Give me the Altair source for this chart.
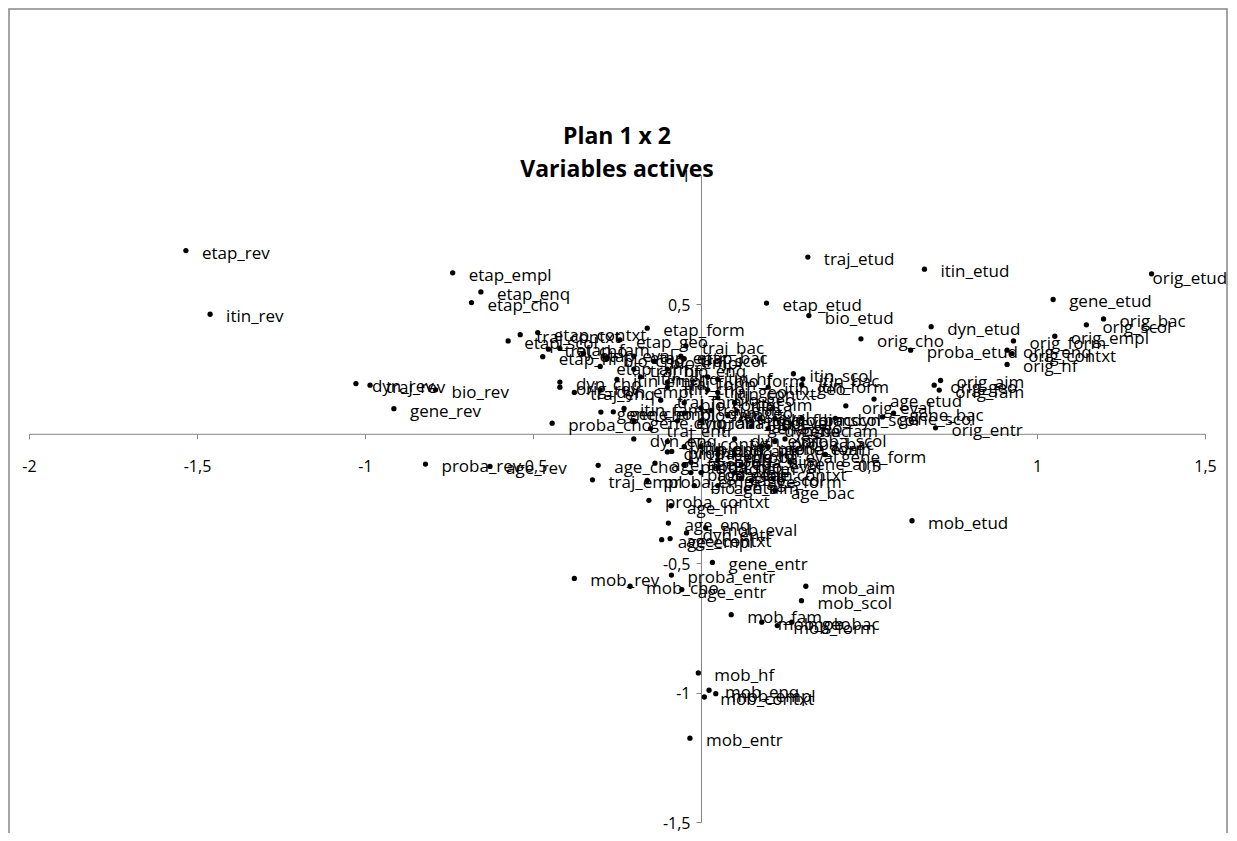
import altair as alt
import pandas as pd

# ---- data (coordinates on axes 1 and 2) ----
labels = [
    "etap_rev", "etap_empl", "etap_enq", "etap_cho", "etap_etud", "etap_form", "etap_contxt", "etap_scol",
    "etap_hf", "etap_geo", "etap_bac", "etap_aim", "etap_entr", "etap_eval", "etap_fam",
    "itin_rev", "itin_etud", "itin_bac", "itin_scol", "itin_form", "itin_fam", "itin_empl", "itin_enq",
    "itin_cho", "itin_contxt", "itin_aim", "itin_hf", "itin_entr", "itin_eval", "itin_geo",
    "traj_etud", "traj_rev", "traj_contxt", "traj_cho", "traj_bac", "traj_empl", "traj_enq", "traj_scol",
    "traj_form", "traj_aim", "traj_hf", "traj_entr", "traj_eval", "traj_geo", "traj_fam",
    "orig_etud", "orig_bac", "orig_scol", "orig_empl", "orig_form", "orig_cho", "orig_enq", "orig_contxt",
    "orig_hf", "orig_aim", "orig_geo", "orig_fam", "orig_eval", "orig_entr", "orig_rev",
    "gene_rev", "gene_etud", "gene_bac", "gene_scol", "gene_form", "gene_aim", "gene_entr", "gene_cho",
    "gene_empl", "gene_enq", "gene_contxt", "gene_hf", "gene_eval", "gene_geo", "gene_fam",
    "bio_rev", "bio_etud", "bio_geo", "bio_cho", "bio_empl", "bio_enq", "bio_form", "bio_contxt",
    "bio_bac", "bio_scol", "bio_aim", "bio_hf", "bio_entr", "bio_eval", "bio_fam",
    "dyn_rev", "dyn_etud", "dyn_geo", "dyn_form", "dyn_scol", "dyn_bac", "dyn_cho", "dyn_empl",
    "dyn_enq", "dyn_contxt", "dyn_aim", "dyn_hf", "dyn_entr", "dyn_eval", "dyn_fam",
    "proba_rev", "proba_etud", "proba_cho", "proba_contxt", "proba_entr", "proba_empl", "proba_enq", "proba_form",
    "proba_bac", "proba_scol", "proba_aim", "proba_hf", "proba_eval", "proba_geo", "proba_fam",
    "age_rev", "age_etud", "age_cho", "age_enq", "age_empl", "age_contxt", "age_hf", "age_entr",
    "age_form", "age_bac", "age_scol", "age_aim", "age_eval", "age_geo", "age_fam",
    "mob_rev", "mob_etud", "mob_cho", "mob_aim", "mob_scol", "mob_fam", "mob_geo", "mob_bac",
    "mob_form", "mob_hf", "mob_enq", "mob_empl", "mob_contxt", "mob_entr", "mob_eval",
]

axis1 = [
    -1.533, -0.739, -0.655, -0.683, 0.195, -0.160, -0.486, -0.574,
    -0.471, -0.241, -0.060, -0.300, -0.200, -0.350, -0.420,
    -1.461, 0.665, 0.303, 0.275, 0.300, -0.229, -0.250, -0.180,
    -0.100, 0.050, 0.100, 0.020, -0.050, 0.150, 0.200,
    0.318, -0.985, -0.538, -0.454, -0.045, -0.323, -0.377, -0.050,
    -0.100, 0.000, -0.200, -0.150, 0.080, 0.020, -0.120,
    1.341, 1.198, 1.147, 1.053, 0.930, 0.476, 0.911, 0.926,
    0.911, 0.713, 0.694, 0.709, 0.431, 0.698, -0.420,
    -0.914, 1.048, 0.573, 0.540, 0.370, 0.265, 0.034, -0.298,
    -0.261, -0.200, 0.100, 0.050, 0.200, 0.150, 0.250,
    -0.790, 0.321, 0.050, -0.280, -0.140, -0.100, 0.050, -0.050,
    0.220, 0.300, 0.050, 0.000, -0.020, 0.120, -0.050,
    -1.027, 0.685, 0.030, 0.175, 0.400, 0.200, -0.420, -0.300,
    -0.200, -0.100, 0.050, -0.100, -0.043, 0.100, -0.070,
    -0.820, 0.624, -0.443, -0.155, -0.088, -0.160, -0.087, 0.180,
    0.220, 0.250, 0.050, -0.050, 0.100, 0.000, -0.030,
    -0.628, 0.515, -0.306, -0.097, -0.117, -0.092, -0.089, -0.057,
    0.150, 0.220, 0.120, 0.050, 0.000, -0.030, -0.137,
    -0.377, 0.628, -0.211, 0.312, 0.299, 0.090, 0.181, 0.270,
    0.227, -0.008, 0.024, 0.044, 0.010, -0.033, 0.014,
]

axis2 = [
    0.708, 0.622, 0.548, 0.507, 0.505, 0.408, 0.391, 0.359,
    0.298, 0.363, 0.300, 0.260, 0.300, 0.310, 0.330,
    0.462, 0.636, 0.212, 0.232, 0.190, 0.098, 0.210, 0.220,
    0.180, 0.160, 0.120, 0.220, -0.050, 0.050, 0.180,
    0.683, 0.188, 0.383, 0.327, 0.340, -0.178, 0.160, 0.290,
    0.200, 0.100, 0.250, 0.020, 0.070, 0.170, 0.130,
    0.618, 0.444, 0.421, 0.377, 0.359, 0.367, 0.323, 0.310,
    0.268, 0.206, 0.188, 0.169, 0.108, 0.023, 0.180,
    0.097, 0.519, 0.080, 0.065, -0.080, -0.109, -0.497, 0.084,
    0.085, 0.050, -0.150, -0.080, -0.050, 0.030, 0.020,
    0.170, 0.457, 0.140, 0.290, 0.280, 0.250, 0.210, 0.120,
    0.060, 0.060, -0.130, -0.050, -0.200, -0.120, 0.080,
    0.194, 0.414, 0.090, 0.060, 0.060, 0.020, 0.200, 0.170,
    -0.020, -0.030, -0.060, -0.070, -0.383, -0.020, 0.050,
    -0.117, 0.323, 0.041, -0.257, -0.546, -0.180, -0.068, -0.050,
    -0.030, -0.020, -0.100, -0.120, -0.080, 0.050, -0.150,
    -0.126, 0.134, -0.122, -0.345, -0.409, -0.405, -0.278, -0.602,
    -0.180, -0.220, -0.170, -0.200, -0.150, -0.110, -0.113,
    -0.559, -0.336, -0.589, -0.589, -0.645, -0.699, -0.728, -0.728,
    -0.741, -0.924, -0.991, -1.004, -1.017, -1.176, -0.364,
]

x_ticks = [-2, -1.5, -1, -0.5, 0.5, 1, 1.5]
y_ticks = [-1.5, -1, -0.5, 0.5, 1]

df = pd.DataFrame({"label": labels, "x": axis1, "y": axis2})

W, H = 1176, 647
X_DOM, Y_DOM = [-2, 1.5], [-1.5, 1]
GREY = "#868686"
FONT = "Open Sans"

x_off = -H * (0 - Y_DOM[0]) / (Y_DOM[1] - Y_DOM[0])
y_off = -W * (0 - X_DOM[0]) / (X_DOM[1] - X_DOM[0])
comma = "replace(toString(datum.value), '.', ',')"

xenc = alt.X("x:Q", scale=alt.Scale(domain=X_DOM, nice=False, zero=False),
             axis=alt.Axis(values=x_ticks, offset=x_off, labelExpr=comma, grid=False, title=None,
                           domainColor=GREY, tickColor=GREY, tickSize=5, labelPadding=20,
                           labelFontSize=16, labelFont=FONT, labelColor="black",
                           labelFlush=False, labelOverlap=False))
yenc = alt.Y("y:Q", scale=alt.Scale(domain=Y_DOM, nice=False, zero=False),
             axis=alt.Axis(values=y_ticks, offset=y_off, labelExpr=comma, grid=False, title=None,
                           domainColor=GREY, tickColor=GREY, tickSize=5, labelPadding=6,
                           labelOffset=1, labelFontSize=16, labelFont=FONT, labelColor="black",
                           labelOverlap=False))

base = alt.Chart(df)
pts = base.mark_circle(size=28, color="black", opacity=1).encode(x=xenc, y=yenc)
txt = base.transform_filter("datum.label != 'orig_etud'").mark_text(
    align="left", baseline="middle", dx=16, dy=3, fontSize=17, font=FONT, color="black"
).encode(x="x:Q", y="y:Q", text="label:N")
# the right-most label is pushed back over its dot so that it stays inside the frame
txt_edge = base.transform_filter("datum.label == 'orig_etud'").mark_text(
    align="left", baseline="middle", dx=1, dy=5, fontSize=17, font=FONT, color="black"
).encode(x="x:Q", y="y:Q", text="label:N")

frame = alt.Chart(df.head(1)).mark_rect(fillOpacity=0, stroke=GREY, strokeWidth=1.5).encode(
    x=alt.value(-20), x2=alt.value(W + 22), y=alt.value(-166), y2=alt.value(H + 60))

chart = alt.layer(frame, pts, txt, txt_edge).properties(
    width=W, height=H,
    title=alt.TitleParams(["Plan 1 x 2", "Variables actives"], fontSize=23, font=FONT,
                          fontWeight="bold", anchor="middle", color="black",
                          lineHeight=33, offset=-174, frame="group"),
    autosize=alt.AutoSizeParams(type="none"),
    padding={"left": 21, "top": 167, "right": 24, "bottom": 11},
).configure_view(stroke=None)

chart.save("out.html", embed_options={"renderer": "svg", "actions": False})
